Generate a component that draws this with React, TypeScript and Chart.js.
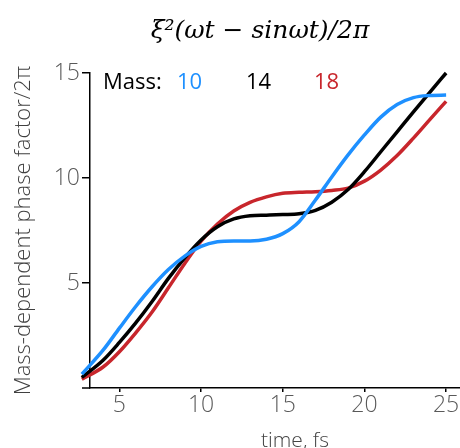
import { useEffect, useRef } from "react";
import { Chart, registerables } from "chart.js";

Chart.register(...registerables);

// time axis (fs)
const timeFs = [2.7, 4, 5, 6, 7, 8, 9, 10, 11, 12, 13, 14, 15, 16, 17, 18, 19, 20, 21, 22, 23, 24, 25];
// Mass 10 (blue)
const mass10 = [0.66, 1.8, 2.85, 3.88, 4.82, 5.64, 6.28, 6.74, 6.96, 7.0, 7.0, 7.08, 7.35, 7.92, 8.95, 10.05, 11.1, 12.05, 12.9, 13.5, 13.83, 13.93, 13.95];
// Mass 14 (black)
const mass14 = [0.5, 1.32, 2.17, 3.1, 4.12, 5.22, 6.2, 7.05, 7.68, 8.05, 8.2, 8.23, 8.26, 8.3, 8.46, 8.85, 9.45, 10.3, 11.25, 12.2, 13.15, 14.08, 15.0];
// Mass 18 (red)
const mass18 = [0.42, 1.0, 1.73, 2.63, 3.62, 4.77, 5.93, 6.99, 7.81, 8.43, 8.84, 9.1, 9.27, 9.32, 9.35, 9.41, 9.52, 9.85, 10.38, 11.07, 11.9, 12.78, 13.65];

const massLabels = ["10", "14", "18"];
const xTickValues = [5, 10, 15, 20, 25];
const yTickValues = [5, 10, 15];

const BLUE = "#1E90FF";
const BLACK = "#000000";
const RED = "#C8262C";
const SANS = '"Open Sans", "Noto Sans", sans-serif';

export default function App() {
  const canvasRef = useRef<HTMLCanvasElement | null>(null);

  useEffect(() => {
    document.body.style.margin = "0";
    const canvas = canvasRef.current;
    if (!canvas) return;

    const toPoints = (ys: number[]) => timeFs.map((x, i) => ({ x, y: ys[i] }));

    const textPlugin = {
      id: "textPlugin",
      afterDraw(chart: any) {
        const ctx = chart.ctx as CanvasRenderingContext2D;
        const ca = chart.chartArea;
        ctx.save();
        // extend x-axis line to the left of the y axis
        ctx.strokeStyle = "#000";
        ctx.lineWidth = 1.5;
        ctx.beginPath();
        ctx.moveTo(82, ca.bottom);
        ctx.lineTo(ca.left, ca.bottom);
        ctx.stroke();

        // title
        ctx.fillStyle = "#000";
        ctx.font = 'italic 25px "DejaVu Serif", serif';
        ctx.textAlign = "center";
        ctx.textBaseline = "alphabetic";
        ctx.fillText("ξ²(ωt − sinωt)/2π", 260, 38);

        // x-axis title
        ctx.fillStyle = "#444";
        ctx.font = `300 21px ${SANS}`;
        ctx.fillText("time, fs", 295, 447);

        // legend
        ctx.textAlign = "left";
        ctx.font = `22px ${SANS}`;
        ctx.fillStyle = "#000";
        ctx.fillText("Mass:", 103, 89);
        const colors = [BLUE, BLACK, RED];
        const lx = [177, 246, 314];
        massLabels.forEach((m, i) => {
          ctx.fillStyle = colors[i];
          ctx.fillText(m, lx[i], 89);
        });
        ctx.restore();
      },
    };

    const chart = new Chart(canvas, {
      type: "line",
      data: {
        datasets: [
          { label: massLabels[0], data: toPoints(mass10), borderColor: BLUE },
          { label: massLabels[1], data: toPoints(mass14), borderColor: BLACK },
          { label: massLabels[2], data: toPoints(mass18), borderColor: RED },
        ].map((d) => ({
          ...d,
          borderWidth: 3.5,
          pointRadius: 0,
          fill: false,
          cubicInterpolationMode: "monotone" as const,
          clip: false as any,
        })),
      },
      options: {
        responsive: false,
        animation: false,
        devicePixelRatio: 1,
        layout: { padding: { top: 73, left: 0, right: 0, bottom: 0 } },
        plugins: {
          legend: { display: false },
          title: { display: false },
          tooltip: { enabled: false },
        },
        scales: {
          x: {
            type: "linear",
            min: 3.2,
            max: 25.85,
            afterBuildTicks: (s: any) => {
              s.ticks = xTickValues.map((v) => ({ value: v }));
            },
            afterFit: (s: any) => {
              s.height = 60;
            },
            grid: {
              display: true,
              drawOnChartArea: false,
              drawTicks: true,
              tickLength: 4,
              color: "#000",
              lineWidth: 1.5,
            },
            border: { display: true, color: "#000", width: 1.5 },
            ticks: {
              color: "#595959",
              font: { family: SANS, size: 23, weight: 300 as any },
              padding: 0,
              maxRotation: 0,
            },
          },
          y: {
            type: "linear",
            min: 0,
            max: 15,
            afterBuildTicks: (s: any) => {
              s.ticks = yTickValues.map((v) => ({ value: v }));
            },
            afterFit: (s: any) => {
              s.width = 90;
            },
            grid: {
              display: true,
              drawOnChartArea: false,
              drawTicks: true,
              tickLength: 8,
              color: "#000",
              lineWidth: 1.5,
            },
            border: { display: true, color: "#000", width: 1.5 },
            ticks: {
              color: "#595959",
              font: { family: SANS, size: 23, weight: 300 as any },
              padding: 2,
            },
            title: {
              display: true,
              text: "Mass-dependent phase factor/2π",
              color: "#404040",
              font: { family: SANS, size: 22, weight: 300 as any },
              padding: { top: 11, bottom: 0 },
            },
          },
        },
      },
      plugins: [textPlugin],
    });

    return () => {
      chart.destroy();
    };
  }, []);

  return <canvas ref={canvasRef} width={460} height={448} style={{ display: "block", width: 460, height: 448 }} />;
}
